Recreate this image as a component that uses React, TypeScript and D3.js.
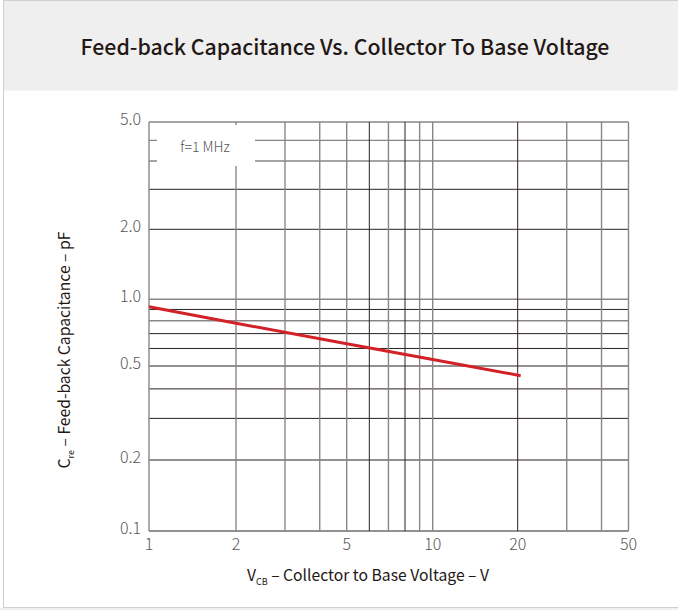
import React from "react";
import * as d3 from "d3";

const title = "Feed-back Capacitance Vs. Collector To Base Voltage";
const xTickValues = [1, 2, 5, 10, 20, 50];
const xGridValues = [1, 2, 3, 4, 5, 6, 7, 8, 9, 10, 20, 30, 40, 50];
const xDarkGrid = [6, 8, 20];
const yTickValues = [0.1, 0.2, 0.5, 1.0, 2.0, 5.0];
const yTickLabels = ["0.1", "0.2", "0.5", "1.0", "2.0", "5.0"];
const yGridValues = [0.1, 0.2, 0.3, 0.4, 0.5, 0.6, 0.7, 0.8, 0.9, 1, 2, 3, 4, 4.5, 5];
const yDarkGrid = [0.1, 0.2, 0.3, 0.4, 0.5, 0.6, 0.7, 0.9, 2, 3];
const vcb = [1, 2, 5, 10, 20.5];
const cre = [0.925, 0.78, 0.63, 0.535, 0.455];
const noteText = "f=1 MHz";

const FONT = "'Noto Sans CJK SC', 'Noto Sans', sans-serif";

export default function App() {
  // grid in the reference is hand-drawn log paper: piecewise log scales
  const x = d3.scaleLog().domain([1, 2, 5, 10, 20, 50]).range([149, 236, 346.7, 432.7, 517.7, 628.5]);
  const y = d3
    .scaleLog()
    .domain([0.1, 0.2, 0.5, 1, 2, 3, 4, 5])
    .range([531, 460, 366, 299.3, 229.3, 189.3, 161, 122]);

  const line = d3
    .line<number>()
    .x((_, i) => x(vcb[i]))
    .y((d) => y(d));

  const gray = "#8b8685";
  const dark = "#2a2220";
  const [x0, x1] = [x(1), x(50)];
  const [yTop, yBot] = [y(5), y(0.1)];

  return (
    <svg
      width={678}
      height={610}
      style={{ position: "absolute", left: 0, top: 0, background: "#fff" }}
    >
      <rect x={0} y={0} width={678} height={610} fill="#fff" />
      <rect x={3.5} y={0.5} width={690} height={90} fill="#efefef" />
      <rect x={3.5} y={0.5} width={690} height={607} fill="none" stroke="#cfcfcf" strokeWidth={1} />
      <rect x={0} y={608} width={678} height={2} fill="#efefef" />
      <text
        x={345}
        y={55}
        textAnchor="middle"
        fontFamily={FONT}
        fontSize={21.3}
        fontWeight={500}
        fill="#231815"
      >
        {title}
      </text>

      {/* horizontal grid */}
      {yGridValues.map((v) => {
        const isDark = yDarkGrid.includes(v);
        return (
          <line
            key={"h" + v}
            x1={x0}
            x2={x1}
            y1={y(v)}
            y2={y(v)}
            stroke={isDark ? dark : gray}
            strokeWidth={isDark ? 1 : 1.4}
          />
        );
      })}
      {/* vertical grid */}
      {xGridValues.map((v) => {
        const isDark = xDarkGrid.includes(v);
        return (
          <line
            key={"v" + v}
            x1={x(v)}
            x2={x(v)}
            y1={yTop}
            y2={yBot}
            stroke={isDark ? dark : gray}
            strokeWidth={isDark ? 1 : 1.4}
          />
        );
      })}

      {/* note box */}
      <rect x={157} y={125} width={98} height={41} fill="#fff" />
      <text x={205} y={152} textAnchor="middle" fontFamily={FONT} fontSize={14} fontWeight={300} fill="#595757">
        {noteText}
      </text>

      {/* curve */}
      <path d={line(cre) || ""} fill="none" stroke="#d22228" strokeWidth={3} />

      {/* ticks */}
      {yTickValues.map((v, i) => (
        <text
          key={"yt" + v}
          x={141}
          y={y(v) + 3}
          textAnchor="end"
          fontFamily={FONT}
          fontSize={16}
          fontWeight={300}
          fill="#595757"
        >
          {yTickLabels[i]}
        </text>
      ))}
      {xTickValues.map((v) => (
        <text
          key={"xt" + v}
          x={x(v)}
          y={550}
          textAnchor="middle"
          fontFamily={FONT}
          fontSize={16}
          fontWeight={300}
          fill="#595757"
        >
          {v}
        </text>
      ))}

      {/* axis titles */}
      <text x={368} y={581} textAnchor="middle" fontFamily={FONT} fontSize={15.7} fill="#231815">
        <tspan>V</tspan>
        <tspan fontSize={9} dy={4}>CB</tspan>
        <tspan dy={-4}>{" – Collector to Base Voltage – V"}</tspan>
      </text>
      <text
        transform="translate(70,350) rotate(-90)"
        textAnchor="middle"
        fontFamily={FONT}
        fontSize={15.7}
        fill="#231815"
      >
        <tspan>C</tspan>
        <tspan fontSize={9} dy={4}>re</tspan>
        <tspan dy={-4}>{" – Feed-back Capacitance – pF"}</tspan>
      </text>
    </svg>
  );
}
